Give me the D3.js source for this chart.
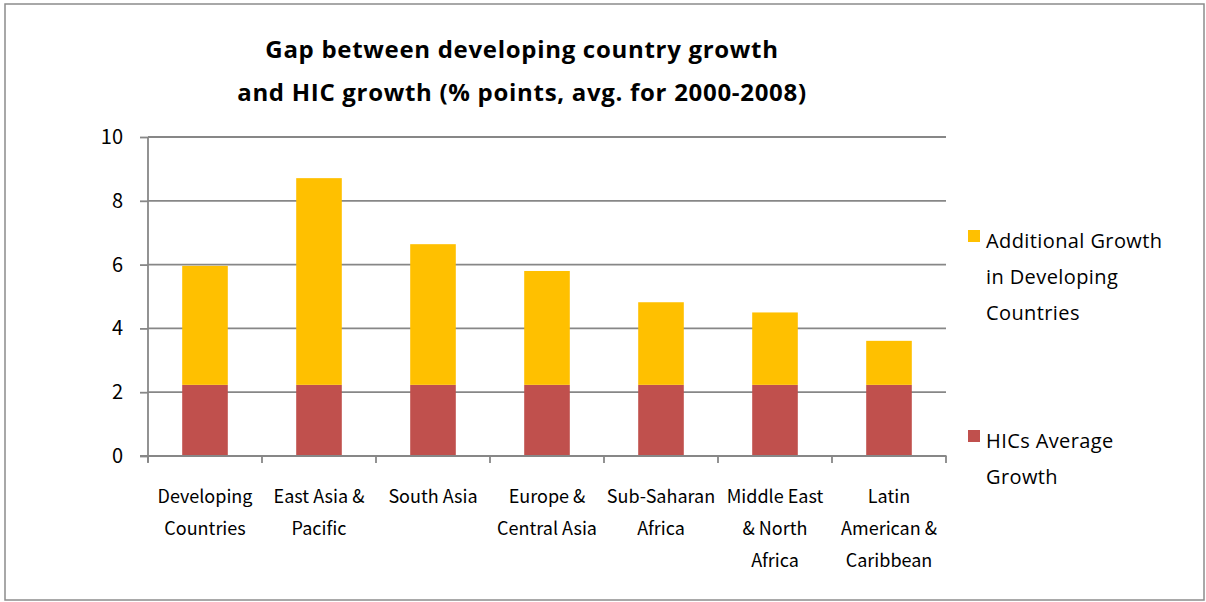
<!DOCTYPE html>
<html>
<head>
<meta charset="utf-8">
<script src="https://cdn.jsdelivr.net/npm/d3@7"></script>
<style>
  html, body { margin: 0; padding: 0; background: #fff; }
  svg { display: block; }
</style>
</head>
<body>
<svg id="chart" width="1206" height="602"></svg>
<script>
// Regions (line breaks as drawn under the axis)
const categories = [
  "Developing\nCountries",
  "East Asia &\nPacific",
  "South Asia",
  "Europe &\nCentral Asia",
  "Sub-Saharan\nAfrica",
  "Middle East\n& North\nAfrica",
  "Latin\nAmerican &\nCaribbean"
];
// High-income countries' average growth (same base for every region)
const hicsAverage = [2.23, 2.23, 2.23, 2.23, 2.23, 2.23, 2.23];
// Extra growth of each developing region above the HIC average
const additionalGrowth = [3.73, 6.48, 4.41, 3.57, 2.59, 2.27, 1.38];
const yTicks = [0, 2, 4, 6, 8, 10];
const titleLines = [
  "Gap between developing country growth",
  "and HIC growth (% points, avg. for 2000-2008)"
];
const seriesNames = ["Additional Growth\nin Developing\nCountries", "HICs Average\nGrowth"];
const seriesColors = ["#FFC000", "#C0504D"];

const svg = d3.select("#chart");
const gridColor = "#878787";
const labelFont = "'Noto Sans CJK KR', 'Noto Sans', sans-serif";
const headFont = "'Open Sans', 'Noto Sans', sans-serif";

// outer frame
svg.append("rect")
  .attr("x", 5).attr("y", 4).attr("width", 1199).attr("height", 596)
  .attr("fill", "#fff").attr("stroke", "#8c8c8c").attr("stroke-width", 1.5);

const x = d3.scaleBand()
  .domain(categories)
  .range([148, 946])
  .paddingInner(0.6)
  .paddingOuter(0.3);

const y = d3.scaleLinear().domain([0, 10]).range([456, 137]);

// horizontal gridlines
svg.append("g").selectAll("line")
  .data(yTicks.filter(d => d > 0))
  .join("line")
  .attr("x1", 148).attr("x2", 946)
  .attr("y1", d => y(d)).attr("y2", d => y(d))
  .attr("stroke", gridColor).attr("stroke-width", 1.8);

// stacked bars
const stackData = categories.map((c, i) => ({ cat: c, hics: hicsAverage[i], add: additionalGrowth[i] }));
const stack = d3.stack().keys(["hics", "add"])(stackData);
const keyColor = { hics: seriesColors[1], add: seriesColors[0] };

svg.append("g").selectAll("g")
  .data(stack)
  .join("g")
  .attr("fill", s => keyColor[s.key])
  .selectAll("rect")
  .data(s => s)
  .join("rect")
  .attr("x", d => x(d.data.cat))
  .attr("width", x.bandwidth())
  .attr("y", d => y(d[1]))
  .attr("height", d => y(d[0]) - y(d[1]));

// y axis
const yAxis = svg.append("g")
  .attr("transform", "translate(148,0)")
  .call(d3.axisLeft(y).tickValues(yTicks).tickSize(8).tickPadding(17).tickFormat(d3.format("d")));
yAxis.select(".domain").attr("stroke", gridColor).attr("stroke-width", 1.8).attr("d", "M0,137V462");
yAxis.selectAll(".tick line").attr("stroke", gridColor).attr("stroke-width", 1.8);
yAxis.selectAll(".tick text")
  .style("font-family", labelFont).style("font-size", "20px").attr("fill", "#000");

// x axis baseline and category separators
svg.append("line")
  .attr("x1", 140).attr("x2", 946.5)
  .attr("y1", y(0)).attr("y2", y(0))
  .attr("stroke", gridColor).attr("stroke-width", 1.8);

const step = x.step();
svg.append("g").selectAll("line")
  .data(d3.range(categories.length + 1))
  .join("line")
  .attr("x1", i => 148 + i * step).attr("x2", i => 148 + i * step)
  .attr("y1", y(0)).attr("y2", y(0) + 7)
  .attr("stroke", gridColor).attr("stroke-width", 1.8);

// category labels
svg.append("g").selectAll("text")
  .data(categories)
  .join("text")
  .attr("text-anchor", "middle")
  .style("font-family", labelFont)
  .style("font-size", "18px")
  .attr("fill", "#000")
  .attr("transform", d => `translate(${x(d) + x.bandwidth() / 2},503)`)
  .each(function (d) {
    d3.select(this).selectAll("tspan")
      .data(d.split("\n"))
      .join("tspan")
      .attr("x", 0)
      .attr("y", (t, i) => i * 32)
      .text(t => t);
  });

// title
svg.append("g").selectAll("text")
  .data(titleLines)
  .join("text")
  .attr("x", 522)
  .attr("y", (d, i) => 58 + i * 43)
  .attr("text-anchor", "middle")
  .style("font-family", headFont)
  .style("font-size", "24px")
  .style("font-weight", "bold")
  .style("letter-spacing", "0.7px")
  .attr("fill", "#000")
  .text(d => d);

// legend
const legendY = [230, 430];
const legend = svg.append("g").selectAll("g")
  .data(seriesNames)
  .join("g")
  .attr("transform", (d, i) => `translate(968,${legendY[i]})`);
legend.append("rect")
  .attr("width", 12).attr("height", 12)
  .attr("fill", (d, i) => seriesColors[i]);
legend.append("text")
  .style("font-family", headFont)
  .style("font-size", "20px")
  .style("letter-spacing", "0.4px")
  .attr("fill", "#000")
  .each(function (d) {
    d3.select(this).selectAll("tspan")
      .data(d.split("\n"))
      .join("tspan")
      .attr("x", 18)
      .attr("y", (t, i) => 18 + i * 36)
      .text(t => t);
  });
</script>
</body>
</html>
